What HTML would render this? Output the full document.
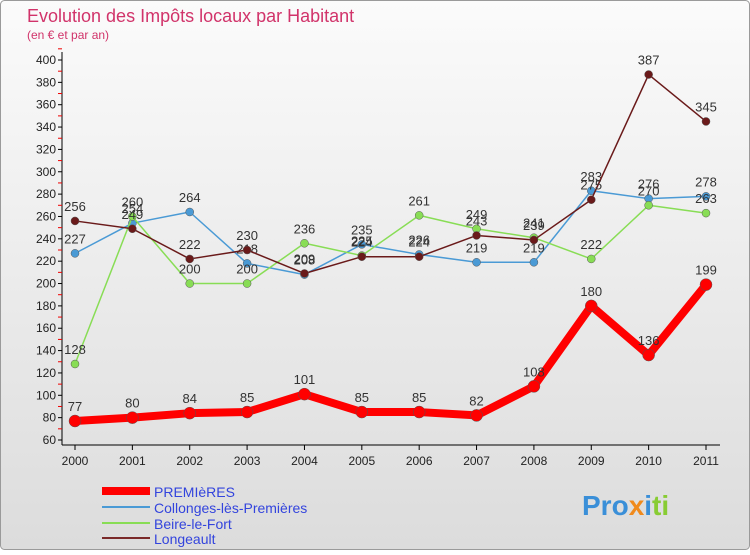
<!DOCTYPE html>
<html><head><meta charset="utf-8"><style>
body{margin:0;width:750px;height:550px;overflow:hidden;font-family:"Liberation Sans",sans-serif}
</style></head><body>
<svg width="750" height="550" xmlns="http://www.w3.org/2000/svg">
<defs><linearGradient id="bg" x1="0" y1="0" x2="0" y2="1"><stop offset="0" stop-color="#fbfbfb"/><stop offset="1" stop-color="#dcdcdc"/></linearGradient></defs>
<rect x="0.5" y="0.5" width="749" height="549" rx="4" fill="url(#bg)" stroke="#9a9a9a"/>
<text x="27" y="22" font-size="18" fill="#d1336a">Evolution des Impôts locaux par Habitant</text>
<text x="27" y="39" font-size="12" fill="#d1336a">(en € et par an)</text>
<g id="axes"></g><g id="series"></g>
<g font-size="14">
<line x1="102" y1="491" x2="150" y2="491" stroke="#ff0000" stroke-width="8"/>
<text x="154" y="497" fill="#3344dd">PREMIèRES</text>
<line x1="102" y1="507" x2="150" y2="507" stroke="#4a9ad5" stroke-width="2"/>
<text x="154" y="513" fill="#3344dd">Collonges-lès-Premières</text>
<line x1="102" y1="523" x2="150" y2="523" stroke="#88dd55" stroke-width="2"/>
<text x="154" y="529" fill="#3344dd">Beire-le-Fort</text>
<line x1="102" y1="538" x2="150" y2="538" stroke="#7a2a2a" stroke-width="2"/>
<text x="154" y="544" fill="#3344dd">Longeault</text>
</g>
<text x="582" y="515" font-size="28" font-weight="bold"><tspan fill="#3a8fd8">Pro</tspan><tspan fill="#f08a1c">x</tspan><tspan fill="#3a8fd8">i</tspan><tspan fill="#88cc33">ti</tspan></text>
</svg>
<script>
const years=["2000","2001","2002","2003","2004","2005","2006","2007","2008","2009","2010","2011"];
const premieres=[77,80,84,85,101,85,85,82,108,180,136,199];
const collonges=[227,254,264,218,208,235,226,219,219,283,276,278];
const beire=[128,260,200,200,236,225,261,249,241,222,270,263];
const longeault=[256,249,222,230,209,224,224,243,239,275,387,345];
const yTicks=[60,80,100,120,140,160,180,200,220,240,260,280,300,320,340,360,380,400];
const NS="http://www.w3.org/2000/svg";
const X=i=>75+i*(706-75)/(years.length-1);
const Y=v=>440-(v-60)*(380/340);
function mk(t,a,p){const e=document.createElementNS(NS,t);for(const k in a)e.setAttribute(k,a[k]);p.appendChild(e);return e;}
const ax=document.getElementById('axes');
const yl=mk('line',{x1:62,y1:52,x2:62,y2:445,stroke:'#000'},ax);


const xl=mk('line',{x1:62,y1:445,x2:720,y2:445,stroke:'#000'},ax);


yTicks.forEach(v=>{
 mk('line',{x1:58,y1:Y(v),x2:62,y2:Y(v),stroke:'#000'},ax);
 mk('line',{x1:58,y1:Y(v+10),x2:62,y2:Y(v+10),stroke:'#e00'},ax);
 const t=mk('text',{x:56,y:Y(v)+4,'text-anchor':'end','font-size':12,fill:'#222'},ax);t.textContent=v;
 
 
});
years.forEach((y,i)=>{
 mk('line',{x1:X(i),y1:445,x2:X(i),y2:450,stroke:'#000'},ax);
 const t=mk('text',{x:X(i),y:465,'text-anchor':'middle','font-size':12,fill:'#222'},ax);t.textContent=y;
 
 
});
const sg=document.getElementById('series');
function series(d,color,w,r,name){
 const g=mk('g',{},sg);
 
 
 const l=mk('polyline',{points:d.map((v,i)=>X(i)+','+Y(v)).join(' '),fill:'none',stroke:color,'stroke-width':w,'stroke-linejoin':'round'},g);
 
 
 d.forEach((v,i)=>{
  const c=mk('circle',{cx:X(i),cy:Y(v),r:r,fill:color,stroke:'#555','stroke-width':0.5},g);
  
  
  const t=mk('text',{x:X(i),y:Y(v)-10,'text-anchor':'middle','font-size':13,fill:'#333'},g);t.textContent=v;
  
  
 });
}
series(collonges,'#4a9ad5',1.5,4,'collonges');
series(beire,'#88dd55',1.5,4,'beire');
series(longeault,'#6a1a1a',1.5,4,'longeault');
series(premieres,'#ff0000',8,6,'premieres');
</script>
</body></html>
